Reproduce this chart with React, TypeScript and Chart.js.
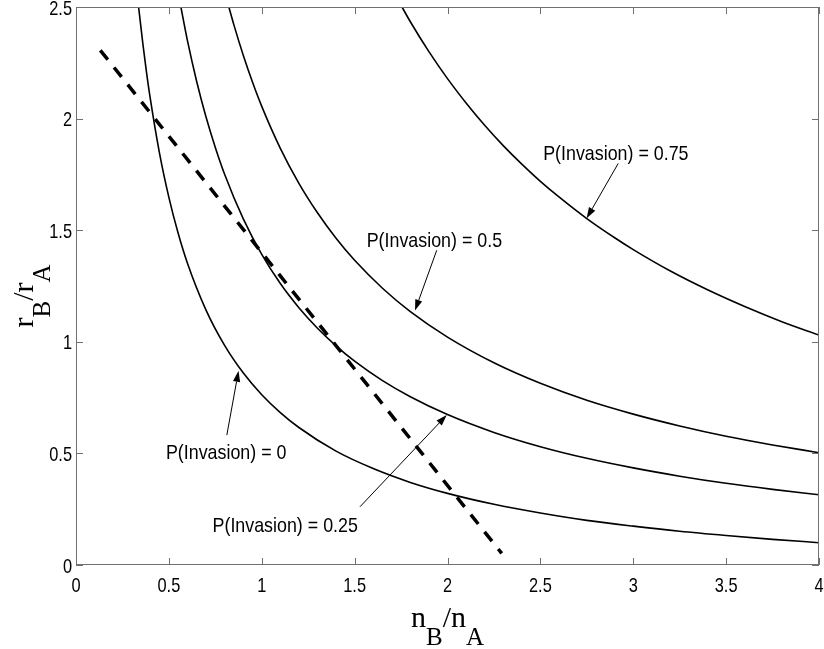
import React, { useEffect, useRef } from "react";
import { Chart, registerables } from "chart.js";

Chart.register(...registerables);

// ---- axis ticks ----
const xTickValues = [0, 0.5, 1, 1.5, 2, 2.5, 3, 3.5, 4];
const xTickLabels = ["0", "0.5", "1", "1.5", "2", "2.5", "3", "3.5", "4"];
const yTickValues = [0, 0.5, 1, 1.5, 2, 2.5];
const yTickLabels = ["0", "0.5", "1", "1.5", "2", "2.5"];

// ---- curves ----
const p0X = [0.337, 0.36, 0.38, 0.4, 0.45, 0.5, 0.55, 0.6, 0.7, 0.8, 0.9, 1.0, 1.1, 1.2, 1.4, 1.6, 1.8, 2.0, 2.25, 2.5, 2.75, 3.0, 3.25, 3.5, 3.75, 4.0];
const p0Y = [2.5, 2.335, 2.205, 2.089, 1.843, 1.647, 1.486, 1.352, 1.142, 0.984, 0.861, 0.763, 0.683, 0.616, 0.51, 0.432, 0.37, 0.321, 0.272, 0.233, 0.2, 0.174, 0.151, 0.132, 0.115, 0.1];

const p25X = [0.56, 0.6, 0.65, 0.7, 0.75, 0.8, 0.9, 1.0, 1.1, 1.2, 1.3, 1.4, 1.5, 1.65, 1.8, 2.0, 2.25, 2.5, 2.75, 3.0, 3.25, 3.5, 3.75, 4.0];
const p25Y = [2.52, 2.349, 2.165, 2.007, 1.871, 1.751, 1.552, 1.392, 1.261, 1.153, 1.061, 0.982, 0.913, 0.826, 0.754, 0.674, 0.594, 0.53, 0.478, 0.435, 0.398, 0.366, 0.339, 0.315];

const p50X = [0.823, 0.85, 0.9, 0.95, 1.0, 1.1, 1.2, 1.3, 1.4, 1.5, 1.65, 1.8, 2.0, 2.25, 2.5, 2.75, 3.0, 3.25, 3.5, 3.75, 4.0];
const p50Y = [2.5, 2.42, 2.285, 2.164, 2.055, 1.867, 1.71, 1.578, 1.464, 1.365, 1.24, 1.135, 1.021, 0.906, 0.814, 0.738, 0.676, 0.623, 0.577, 0.538, 0.503];

const p75X = [1.745, 1.8, 1.9, 2.0, 2.1, 2.2, 2.3, 2.4, 2.5, 2.6, 2.75, 2.9, 3.0, 3.2, 3.4, 3.6, 3.8, 4.0];
const p75Y = [2.515, 2.434, 2.3, 2.179, 2.07, 1.97, 1.879, 1.796, 1.719, 1.649, 1.552, 1.466, 1.413, 1.317, 1.233, 1.158, 1.09, 1.03];

// dashed straight line
const dashX = [0.131, 2.292];
const dashY = [2.306, 0.052];

// ---- annotations (data coordinates) ----
const labelTexts = ["P(Invasion) = 0", "P(Invasion) = 0.25", "P(Invasion) = 0.5", "P(Invasion) = 0.75"];
const labelX = [0.484, 0.735, 1.565, 2.515];
const labelY = [0.473, 0.149, 1.425, 1.814];
const arrowFromX = [0.812, 1.529, 1.942, 2.919];
const arrowFromY = [0.582, 0.261, 1.41, 1.799];
const arrowToX = [0.875, 1.996, 1.825, 2.749];
const arrowToY = [0.87, 0.672, 1.14, 1.553];

// axis titles: [text, isSubscript]
const xTitleParts: [string, boolean][] = [["n", false], ["B", true], ["/", false], ["n", false], ["A", true]];
const yTitleParts: [string, boolean][] = [["r", false], ["B", true], ["/", false], ["r", false], ["A", true]];

const toPts = (xs: number[], ys: number[]) => xs.map((x, i) => ({ x, y: ys[i] }));

const SANS = "'Liberation Sans', Arial, sans-serif";
const SERIF = "'Liberation Serif', 'Times New Roman', serif";

function drawTitle(ctx: CanvasRenderingContext2D, parts: [string, boolean][], mainSize: number, subSize: number, subDrop: number) {
  const fontMain = `${mainSize}px ${SERIF}`;
  const fontSub = `${subSize}px ${SERIF}`;
  let total = 0;
  const widths = parts.map(([t, sub]) => {
    ctx.font = sub ? fontSub : fontMain;
    const w = ctx.measureText(t).width;
    total += w;
    return w;
  });
  let cx = -total / 2;
  ctx.textAlign = "left";
  ctx.textBaseline = "alphabetic";
  parts.forEach(([t, sub], i) => {
    ctx.font = sub ? fontSub : fontMain;
    ctx.fillText(t, cx, sub ? subDrop : 0);
    cx += widths[i];
  });
}

// condensed Helvetica-like text
function narrowText(ctx: CanvasRenderingContext2D, t: string, px: number, py: number, size: number, sx: number, align: "left" | "center" | "right") {
  ctx.save();
  ctx.translate(px, py);
  ctx.scale(sx, 1);
  ctx.font = `${size}px ${SANS}`;
  ctx.textAlign = align;
  ctx.textBaseline = "alphabetic";
  ctx.fillText(t, 0, 0);
  ctx.restore();
}

const overlayPlugin = {
  id: "overlay",
  afterDatasetsDraw(chart: any) {
    const { ctx, scales } = chart;
    const x = scales.x;
    const y = scales.y;
    ctx.save();
    ctx.fillStyle = "#000";
    ctx.strokeStyle = "#000";
    ctx.lineWidth = 1;
    labelTexts.forEach((t, i) => {
      narrowText(ctx, t, x.getPixelForValue(labelX[i]), y.getPixelForValue(labelY[i]), 21, 0.85, "left");
      const x1 = x.getPixelForValue(arrowFromX[i]);
      const y1 = y.getPixelForValue(arrowFromY[i]);
      const x2 = x.getPixelForValue(arrowToX[i]);
      const y2 = y.getPixelForValue(arrowToY[i]);
      const ang = Math.atan2(y2 - y1, x2 - x1);
      const hl = 11;
      const hw = 3.6;
      const bx = x2 - hl * Math.cos(ang);
      const by = y2 - hl * Math.sin(ang);
      ctx.beginPath();
      ctx.moveTo(x1, y1);
      ctx.lineTo(bx, by);
      ctx.stroke();
      ctx.beginPath();
      ctx.moveTo(x2, y2);
      ctx.lineTo(bx + hw * Math.sin(ang), by - hw * Math.cos(ang));
      ctx.lineTo(bx - hw * Math.sin(ang), by + hw * Math.cos(ang));
      ctx.closePath();
      ctx.fill();
    });
    ctx.restore();
  },
  afterDraw(chart: any) {
    const { ctx, chartArea: a, scales } = chart;
    const x = scales.x;
    const y = scales.y;
    ctx.save();
    // box
    ctx.strokeStyle = "#707070";
    ctx.lineWidth = 1;
    ctx.strokeRect(Math.round(a.left) + 0.5, Math.round(a.top) + 0.5, Math.round(a.right - a.left) - 1, Math.round(a.bottom - a.top) - 1);
    // inward ticks
    const tl = 7;
    ctx.beginPath();
    xTickValues.forEach((v) => {
      const px = Math.round(x.getPixelForValue(v)) + 0.5;
      ctx.moveTo(px, a.bottom);
      ctx.lineTo(px, a.bottom - tl);
      ctx.moveTo(px, a.top);
      ctx.lineTo(px, a.top + tl);
    });
    yTickValues.forEach((v) => {
      const py = Math.round(y.getPixelForValue(v)) + 0.5;
      ctx.moveTo(a.left, py);
      ctx.lineTo(a.left + tl, py);
      ctx.moveTo(a.right, py);
      ctx.lineTo(a.right - tl, py);
    });
    ctx.stroke();

    // tick labels
    ctx.fillStyle = "#000";
    xTickValues.forEach((v, i) => {
      narrowText(ctx, xTickLabels[i], x.getPixelForValue(v), a.bottom + 27, 21, 0.78, "center");
    });
    yTickValues.forEach((v, i) => {
      narrowText(ctx, yTickLabels[i], a.left - 4, y.getPixelForValue(v) + 7.5, 21, 0.78, "right");
    });

    // axis titles
    ctx.save();
    ctx.translate((a.left + a.right) / 2, 627);
    drawTitle(ctx, xTitleParts, 30, 25, 18);
    ctx.restore();

    ctx.save();
    ctx.translate(33, 296);
    ctx.rotate(-Math.PI / 2);
    drawTitle(ctx, yTitleParts, 30, 25, 17);
    ctx.restore();

    ctx.restore();
  },
};

export default function App() {
  const canvasRef = useRef<HTMLCanvasElement | null>(null);

  useEffect(() => {
    const canvas = canvasRef.current;
    if (!canvas) return;
    const curveStyle = {
      borderColor: "#000",
      borderWidth: 1.6,
      pointRadius: 0,
      showLine: true,
      fill: false,
      cubicInterpolationMode: "monotone" as const,
    };
    const chart = new Chart(canvas, {
      type: "scatter",
      data: {
        datasets: [
          { label: "P(Invasion) = 0", data: toPts(p0X, p0Y), ...curveStyle },
          { label: "P(Invasion) = 0.25", data: toPts(p25X, p25Y), ...curveStyle },
          { label: "P(Invasion) = 0.5", data: toPts(p50X, p50Y), ...curveStyle },
          { label: "P(Invasion) = 0.75", data: toPts(p75X, p75Y), ...curveStyle },
          {
            label: "boundary",
            data: toPts(dashX, dashY),
            borderColor: "#000",
            borderWidth: 3.5,
            borderDash: [12, 10],
            pointRadius: 0,
            showLine: true,
            fill: false,
          },
        ],
      },
      options: {
        animation: false,
        responsive: false,
        maintainAspectRatio: false,
        layout: { padding: { left: 0, top: 7, right: 5, bottom: 0 } },
        plugins: {
          legend: { display: false },
          tooltip: { enabled: false },
          title: { display: false },
        },
        scales: {
          x: {
            type: "linear",
            min: 0,
            max: 4,
            ticks: { display: false, stepSize: 0.5 },
            grid: { display: false, drawTicks: false },
            border: { display: false },
            afterFit: (scale: any) => {
              scale.height = 84;
              scale.paddingLeft = 0;
              scale.paddingRight = 0;
            },
          },
          y: {
            type: "linear",
            min: 0,
            max: 2.5,
            ticks: { display: false, stepSize: 0.5 },
            grid: { display: false, drawTicks: false },
            border: { display: false },
            afterFit: (scale: any) => {
              scale.width = 76;
              scale.paddingTop = 0;
              scale.paddingBottom = 0;
            },
          },
        },
      },
      plugins: [overlayPlugin],
    });
    return () => chart.destroy();
  }, []);

  return (
    <div style={{ position: "fixed", left: 0, top: 0, width: 824, height: 649, background: "#fff" }}>
      <canvas ref={canvasRef} width={824} height={649} style={{ display: "block", width: 824, height: 649 }} />
    </div>
  );
}
